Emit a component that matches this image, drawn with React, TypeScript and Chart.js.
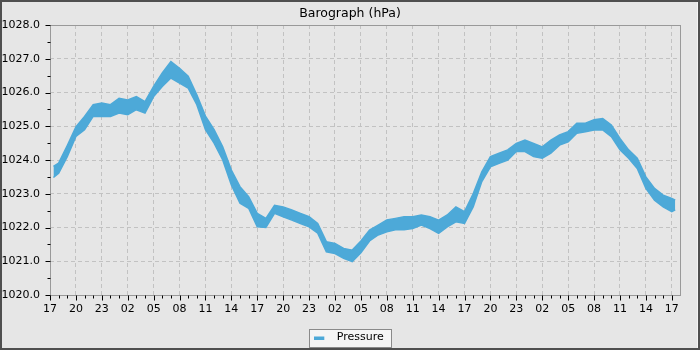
import React, { useEffect, useRef } from "react";
import { Chart, registerables } from "chart.js";

Chart.register(...registerables);

// Hours since the first 17:00 tick
const hours = [
  0.4, 1, 2, 3, 4, 5, 6, 7, 8, 9, 10, 11, 12, 13, 14, 15, 16, 17, 18, 19, 20,
  21, 22, 23, 24, 25, 26, 27, 28, 29, 30, 31, 32, 33, 34, 35, 36, 37, 38, 39,
  40, 41, 42, 43, 44, 45, 46, 47, 48, 49, 50, 51, 52, 53, 54, 55, 56, 57, 58,
  59, 60, 61, 62, 63, 64, 65, 66, 67, 68, 69, 70, 71, 72, 72.4,
];

// Upper edge of the pressure trace (hPa)
const pressureHigh = [
  1023.81, 1023.91, 1024.43, 1024.98, 1025.29, 1025.64, 1025.69, 1025.64,
  1025.83, 1025.78, 1025.88, 1025.73, 1026.18, 1026.58, 1026.92, 1026.72,
  1026.48, 1025.93, 1025.3, 1024.9, 1024.39, 1023.7, 1023.21, 1022.91,
  1022.42, 1022.27, 1022.66, 1022.61, 1022.52, 1022.42, 1022.32, 1022.12,
  1021.58, 1021.53, 1021.38, 1021.33, 1021.6, 1021.92, 1022.07, 1022.22,
  1022.27, 1022.32, 1022.32, 1022.37, 1022.32, 1022.22, 1022.37, 1022.61,
  1022.47, 1023.0, 1023.65, 1024.1, 1024.2, 1024.3, 1024.49, 1024.59,
  1024.49, 1024.39, 1024.59, 1024.74, 1024.84, 1025.09, 1025.09, 1025.19,
  1025.23, 1025.04, 1024.64, 1024.3, 1024.05, 1023.5, 1023.16, 1022.96,
  1022.86, 1022.81,
];

// Lower edge of the pressure trace (hPa)
const pressureLow = [
  1023.48, 1023.61, 1024.1, 1024.7, 1024.9, 1025.29, 1025.29, 1025.29,
  1025.39, 1025.34, 1025.49, 1025.39, 1025.88, 1026.18, 1026.43, 1026.28,
  1026.13, 1025.64, 1024.9, 1024.5, 1024.0, 1023.26, 1022.72, 1022.57,
  1022.02, 1022.0, 1022.42, 1022.32, 1022.22, 1022.12, 1022.02, 1021.83,
  1021.28, 1021.23, 1021.09, 1020.99, 1021.25, 1021.6, 1021.78, 1021.87,
  1021.93, 1021.93, 1021.97, 1022.07, 1021.97, 1021.83, 1022.02, 1022.17,
  1022.12, 1022.61, 1023.36, 1023.8, 1023.9, 1024.0, 1024.25, 1024.25,
  1024.1, 1024.05, 1024.2, 1024.44, 1024.54, 1024.79, 1024.84, 1024.89,
  1024.89, 1024.69, 1024.3, 1024.05, 1023.75, 1023.16, 1022.81, 1022.61,
  1022.47, 1022.52,
];

// X tick labels every 3 hours
const hourLabels = [
  "17", "20", "23", "02", "05", "08", "11", "14",
  "17", "20", "23", "02", "05", "08", "11", "14",
  "17", "20", "23", "02", "05", "08", "11", "14",
  "17",
];

// Y tick labels every 1 hPa
const pressureLabels = [
  "1020.0", "1021.0", "1022.0", "1023.0", "1024.0",
  "1025.0", "1026.0", "1027.0", "1028.0",
];

const X_MAX = 72.95;
const Y_MIN = 1020;
const Y_MAX = 1028;
const BLUE = "#4DA9D8";
const FONT = "'DejaVu Sans', sans-serif";

const frameTicksPlugin = {
  id: "frameTicks",
  beforeDraw(chart: any) {
    const lg = chart.legend;
    if (!lg || !lg.legendHitBoxes || !lg.legendHitBoxes.length) return;
    const hb = lg.legendHitBoxes[0];
    const ctx = chart.ctx;
    const l = Math.round(hb.left - 7) + 0.5;
    const t = Math.round(hb.top - 3) + 0.5;
    const w = Math.round(hb.width + 15);
    const h = 18;
    ctx.save();
    ctx.fillStyle = "#f5f5f5";
    ctx.fillRect(l, t, w, h);
    ctx.strokeStyle = "#8a8a8a";
    ctx.lineWidth = 1;
    ctx.strokeRect(l, t, w, h);
    ctx.restore();
  },
  beforeDatasetsDraw(chart: any) {
    const { ctx, chartArea, scales } = chart;
    const xs = scales.x;
    const ys = scales.y;
    ctx.save();
    ctx.strokeStyle = "#999999";
    ctx.lineWidth = 1;
    ctx.setLineDash([]);
    const L = Math.round(chartArea.left) + 0.5;
    const R = Math.round(chartArea.right) + 0.5;
    const T = Math.round(chartArea.top) + 0.5;
    const B = Math.round(chartArea.bottom) + 0.5;
    ctx.strokeRect(L, T, R - L, B - T);
    ctx.strokeStyle = "#000000";
    ctx.beginPath();
    for (const tk of xs.ticks) {
      if (!Number.isInteger(tk.value)) continue;
      const px = Math.round(xs.getPixelForValue(tk.value)) + 0.5;
      const len = tk.value % 3 === 0 ? 5 : 3;
      ctx.moveTo(px, B);
      ctx.lineTo(px, B + len);
    }
    for (const tk of ys.ticks) {
      const py = Math.round(ys.getPixelForValue(tk.value)) + 0.5;
      const len = Number.isInteger(tk.value) ? 5 : 3;
      ctx.moveTo(L - len, py);
      ctx.lineTo(L, py);
    }
    ctx.stroke();
    ctx.restore();
  },
};

function makeLegendMarker(): HTMLCanvasElement {
  const c = document.createElement("canvas");
  c.width = 19;
  c.height = 4;
  const g = c.getContext("2d");
  if (g) {
    g.fillStyle = BLUE;
    g.fillRect(0, 1, 10, 3);
  }
  return c;
}

export default function App() {
  const ref = useRef<HTMLCanvasElement | null>(null);

  useEffect(() => {
    if (!ref.current) return;
    Chart.defaults.font.family = FONT;
    Chart.defaults.color = "#000000";
    const marker = makeLegendMarker();

    const highPts = hours.map((h, i) => ({ x: h, y: pressureHigh[i] }));
    const lowPts = hours.map((h, i) => ({ x: h, y: pressureLow[i] }));

    const chart = new Chart(ref.current, {
      type: "line",
      data: {
        datasets: [
          {
            label: "Pressure",
            data: highPts,
            borderColor: BLUE,
            backgroundColor: BLUE,
            borderWidth: 1.5,
            pointRadius: 0,
            tension: 0,
            fill: false,
          },
          {
            label: "Pressure low",
            data: lowPts,
            borderColor: BLUE,
            backgroundColor: BLUE,
            borderWidth: 1.5,
            pointRadius: 0,
            tension: 0,
            fill: "-1",
          },
        ],
      },
      options: {
        animation: false,
        responsive: false,
        layout: { padding: { left: 0, right: 0, top: 0, bottom: 0 } },
        plugins: {
          title: {
            display: true,
            text: "Barograph (hPa)",
            color: "#000000",
            font: { family: FONT, size: 12.5, weight: "normal" },
            padding: { top: 4, bottom: 4 },
          },
          legend: {
            display: true,
            position: "bottom",
            maxHeight: 27,
            labels: {
              padding: 11,
              usePointStyle: true,
              pointStyleWidth: 15,
              color: "#000000",
              font: { family: FONT, size: 11 },
              generateLabels: () => [
                {
                  text: "Pressure",
                  fillStyle: BLUE,
                  strokeStyle: BLUE,
                  lineWidth: 0,
                  pointStyle: marker,
                  hidden: false,
                  datasetIndex: 0,
                } as any,
              ],
            },
          },
          tooltip: { enabled: false },
        },
        scales: {
          x: {
            type: "linear",
            min: 0,
            max: X_MAX,
            afterFit: (scale: any) => {
              scale.height = 26;
            },
            ticks: {
              stepSize: 1,
              autoSkip: false,
              includeBounds: false,
              maxRotation: 0,
              minRotation: 0,
              padding: 8,
              color: "#000000",
              font: { family: FONT, size: 11 },
              callback: (v: any) => {
                const n = Number(v);
                if (!Number.isInteger(n) || n % 3 !== 0) return "";
                return hourLabels[n / 3] ?? "";
              },
            },
            grid: {
              drawTicks: false,
              color: (c: any) =>
                c.tick && Number.isInteger(c.tick.value) && c.tick.value % 3 === 0
                  ? "#c2c2c2"
                  : "rgba(0,0,0,0)",
              lineWidth: 1,
            },
            border: { display: false, dash: [4, 3] },
          },
          y: {
            type: "linear",
            min: Y_MIN,
            max: Y_MAX,
            afterFit: (scale: any) => {
              scale.width = 48;
            },
            ticks: {
              stepSize: 0.5,
              autoSkip: false,
              padding: 10,
              color: "#000000",
              font: { family: FONT, size: 11 },
              callback: (v: any) => {
                const n = Number(v);
                if (!Number.isInteger(n)) return "";
                return pressureLabels[n - Y_MIN] ?? "";
              },
            },
            grid: {
              drawTicks: false,
              color: (c: any) =>
                c.tick && Number.isInteger(c.tick.value)
                  ? "#c2c2c2"
                  : "rgba(0,0,0,0)",
              lineWidth: 1,
            },
            border: { display: false, dash: [4, 3] },
          },
          yRight: {
            type: "linear",
            position: "right",
            display: true,
            min: Y_MIN,
            max: Y_MAX,
            afterFit: (scale: any) => {
              scale.width = 18;
            },
            ticks: { display: false },
            grid: { display: false, drawTicks: false },
            border: { display: false },
          },
        },
      },
      plugins: [frameTicksPlugin],
    } as any);

    return () => chart.destroy();
  }, []);

  return (
    <div
      style={{
        position: "absolute",
        left: 0,
        top: 0,
        width: 700,
        height: 350,
        boxSizing: "border-box",
        border: "2px solid #4f4f4f",
        background: "#e6e6e6",
        boxShadow: "inset -1px 0 0 #f4f4f4",
      }}
    >
      <canvas ref={ref} width={696} height={346} style={{ display: "block" }} />
    </div>
  );
}
